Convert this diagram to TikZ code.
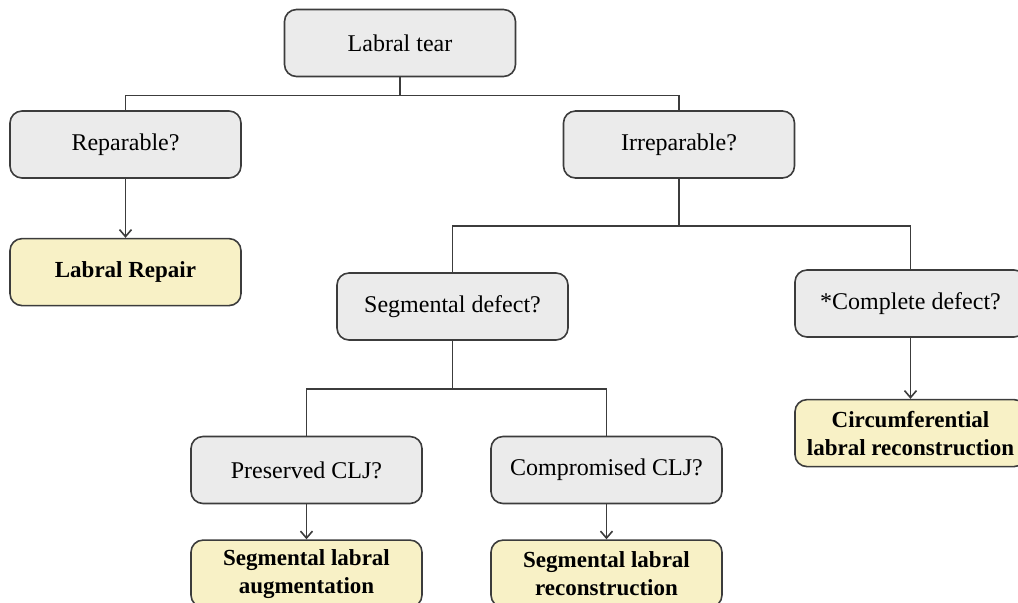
\documentclass[tikz,border=0pt]{standalone}
\usepackage{fontspec}
\setmainfont{Liberation Serif}
\usetikzlibrary{positioning,arrows.meta}
\definecolor{boxgray}{HTML}{EBEBEB}
\definecolor{boxyellow}{HTML}{F8F1C6}
\definecolor{linegray}{HTML}{3C3C3C}

\begin{document}
\begin{tikzpicture}[
    x=0.5pt, y=-0.5pt,
    every node/.style={rounded corners=6pt, draw=linegray, line width=0.8pt, minimum width=115.5pt, minimum height=33.5pt, align=center, font=\fontsize{12}{14}\selectfont},
    question/.style={fill=boxgray},
    answer/.style={fill=boxyellow, font=\fontsize{11.5}{14}\selectfont\bfseries},
    link/.style={draw=linegray, line width=0.8pt},
    arrow/.style={link, -{Straight Barb[length=3.5pt,width=6pt]}}
]
\useasboundingbox (0,0) rectangle (1018,602);

% Questions
\node[question] (tear) at (400,43) {Labral tear};
\node[question] (rep) at (125.5,144.5) {Reparable?};
\node[question] (irr) at (679,144.5) {Irreparable?};
\node[question] (seg) at (452.5,306.5) {Segmental defect?};
\node[question] (comp) at (910.5,303.5) {*Complete defect?};
\node[question] (pres) at (306.5,470) {Preserved CLJ?};
\node[question] (compr) at (606.5,470) {Compromised CLJ?};

% Outcomes
\node[answer, below=29.5pt of rep] (repair) {Labral Repair};
\node[answer, below=30.5pt of comp] (circ) {Circumferential\\labral reconstruction};
\node[answer, below=17.5pt of pres] (aug) {Segmental labral\\augmentation};
\node[answer, below=17.5pt of compr] (recon) {Segmental labral\\reconstruction};

% Branches
\draw[link] (tear.south) -- ++(0,18) -| (rep.north);
\draw[link] (tear.south) -- ++(0,18) -| (irr.north);
\draw[link] (irr.south) -- ++(0,47) -| (seg.north);
\draw[link] (irr.south) -- ++(0,47) -| (comp.north);
\draw[link] (seg.south) -- ++(0,48) -| (pres.north);
\draw[link] (seg.south) -- ++(0,48) -| (compr.north);

% Arrows
\draw[arrow] (rep) -- (repair);
\draw[arrow] (comp) -- (circ);
\draw[arrow] (pres) -- (aug);
\draw[arrow] (compr) -- (recon);
\end{tikzpicture}
\end{document}
